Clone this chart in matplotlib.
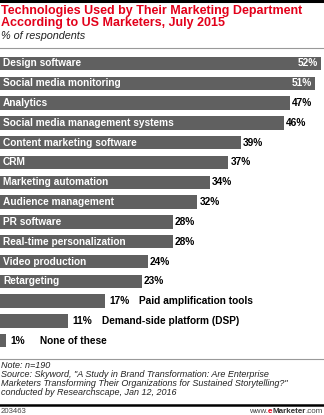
import matplotlib.pyplot as plt
from matplotlib.lines import Line2D

categories = ["Design software", "Social media monitoring", "Analytics",
              "Social media management systems", "Content marketing software",
              "CRM", "Marketing automation", "Audience management", "PR software",
              "Real-time personalization", "Video production", "Retargeting",
              "Paid amplification tools", "Demand-side platform (DSP)", "None of these"]
values = [52, 51, 47, 46, 39, 37, 34, 32, 28, 28, 24, 23, 17, 11, 1]

W, H = 324, 415
fig = plt.figure(figsize=(W / 100, H / 100), dpi=100)
plt.rcParams['font.family'] = ['Liberation Sans', 'DejaVu Sans']

red = '#e2001a'
bar_col = '#606060'

def fy(px):
    return 1 - px / H

# header
fig.add_artist(Line2D([0, 1], [fy(1), fy(1)], color='black', lw=2.2))
fig.text(1 / W, fy(5), "Technologies Used by Their Marketing Department",
         color=red, fontsize=9.0, fontweight='bold', va='top', ha='left')
fig.text(1 / W, fy(17), "According to US Marketers, July 2015",
         color=red, fontsize=9.0, fontweight='bold', va='top', ha='left')
fig.text(1 / W, fy(31), "% of respondents", fontsize=7.8, style='italic', va='top', ha='left', color='#222222')
fig.add_artist(Line2D([0, 1], [fy(48.5), fy(48.5)], color='#999999', lw=0.8))

# bars
ax = fig.add_axes([0, fy(352), 1, 300 / H])
pos = list(range(len(values)))
ax.barh(pos, values, height=0.68, color=bar_col, edgecolor='none')
ax.set_xlim(0, 52.5)
ax.set_ylim(14.57, -0.58)
ax.axis('off')

fs = 7.3
px = 52.5 / W  # one pixel in data units
for i, (c, v) in enumerate(zip(categories, values)):
    if i < 2:
        ax.text(px * 3, i, c, color='white', fontsize=fs, fontweight='bold', va='center', ha='left')
        ax.text(v - px * 3, i, f"{v}%", color='white', fontsize=fs, fontweight='bold', va='center', ha='right')
    elif i < 12:
        ax.text(px * 3, i, c, color='white', fontsize=fs, fontweight='bold', va='center', ha='left')
        ax.text(v + px * 2, i, f"{v}%", color='black', fontsize=fs, fontweight='bold', va='center', ha='left')
    else:
        ax.text(v + px * 4, i, f"{v}%", color='black', fontsize=fs, fontweight='bold', va='center', ha='left')
        ax.text(v + px * 34, i, c, color='black', fontsize=fs, fontweight='bold', va='center', ha='left')

# footer
fig.add_artist(Line2D([0, 1], [fy(359), fy(359)], color='#999999', lw=0.8))
notes = ("Note: n=190\n"
         "Source: Skyword, \"A Study in Brand Transformation: Are Enterprise\n"
         "Marketers Transforming Their Organizations for Sustained Storytelling?\"\n"
         "conducted by Researchscape, Jan 12, 2016")
fig.text(1 / W, fy(361), notes, fontsize=6.5, style='italic', va='top', ha='left',
         color='#222222', linespacing=0.98)
fig.add_artist(Line2D([0, 1], [fy(405), fy(405)], color='black', lw=1.8))
fig.text(1 / W, fy(407.5), "203463", fontsize=5.6, va='top', ha='left', color='#444444')

# www.eMarketer.com with a red bold "e"
r = fig.canvas.get_renderer()
x_right = 1 - 1 / W
t3 = fig.text(x_right, fy(407.5), ".com", fontsize=5.8, va='top', ha='right', color='#444444')
w3 = t3.get_window_extent(r).width / W
t2 = fig.text(x_right - w3, fy(407.5), "Marketer", fontsize=5.8, fontweight='bold', va='top', ha='right', color='#333333')
w2 = t2.get_window_extent(r).width / W
t1 = fig.text(x_right - w3 - w2, fy(407.5), "e", fontsize=5.8, fontweight='bold', va='top', ha='right', color=red)
w1 = t1.get_window_extent(r).width / W
fig.text(x_right - w3 - w2 - w1, fy(407.5), "www.", fontsize=5.8, va='top', ha='right', color='#444444')

fig.savefig('out.png', dpi=100)
